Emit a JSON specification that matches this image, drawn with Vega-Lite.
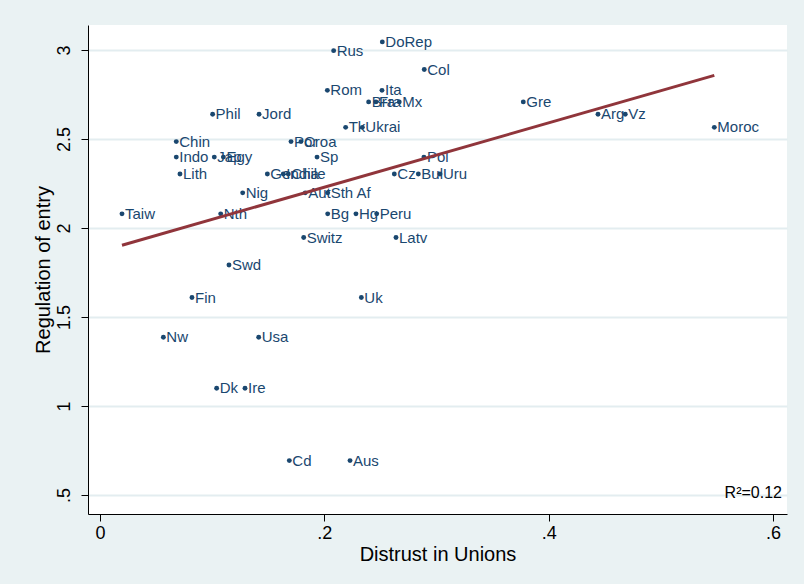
{
  "$schema": "https://vega.github.io/schema/vega-lite/v6.json",
  "autosize": "none",
  "width": 699,
  "height": 489,
  "padding": {"left": 88, "top": 25, "right": 17, "bottom": 70},
  "background": "#EAF2F3",
  "view": {"fill": "white", "stroke": null},
  "config": {
    "font": "Liberation Sans",
    "axis": {
      "domainColor": "#000000",
      "tickColor": "#000000",
      "labelColor": "#000000",
      "titleColor": "#000000",
      "labelFontSize": 18,
      "titleFontSize": 20,
      "titleFontWeight": "normal",
      "tickSize": 7,
      "labelFont": "Liberation Sans",
      "titleFont": "Liberation Sans"
    }
  },
  "datasets": {
    "countries": [
      {"name": "Taiw", "distrust": 0.0196, "reg": 2.079},
      {"name": "Nw", "distrust": 0.0565, "reg": 1.386},
      {"name": "Chin", "distrust": 0.068, "reg": 2.485},
      {"name": "Indo", "distrust": 0.068, "reg": 2.398},
      {"name": "Lith", "distrust": 0.0713, "reg": 2.303},
      {"name": "Fin", "distrust": 0.082, "reg": 1.609},
      {"name": "Phil", "distrust": 0.1004, "reg": 2.639},
      {"name": "Jap", "distrust": 0.1019, "reg": 2.398},
      {"name": "Dk", "distrust": 0.104, "reg": 1.099},
      {"name": "Nth", "distrust": 0.1076, "reg": 2.079},
      {"name": "Egy", "distrust": 0.110, "reg": 2.398},
      {"name": "Swd", "distrust": 0.115, "reg": 1.792},
      {"name": "Nig", "distrust": 0.1272, "reg": 2.197},
      {"name": "Ire", "distrust": 0.1293, "reg": 1.099},
      {"name": "Usa", "distrust": 0.1415, "reg": 1.386},
      {"name": "Jord", "distrust": 0.1418, "reg": 2.639},
      {"name": "Ger", "distrust": 0.1492, "reg": 2.303},
      {"name": "India", "distrust": 0.1634, "reg": 2.303},
      {"name": "Chile", "distrust": 0.1679, "reg": 2.303},
      {"name": "Cd", "distrust": 0.1688, "reg": 0.693},
      {"name": "Por", "distrust": 0.1703, "reg": 2.485},
      {"name": "Croa", "distrust": 0.1792, "reg": 2.485},
      {"name": "Switz", "distrust": 0.1816, "reg": 1.946},
      {"name": "Aut", "distrust": 0.183, "reg": 2.197},
      {"name": "Sp", "distrust": 0.1935, "reg": 2.398},
      {"name": "Rom", "distrust": 0.2027, "reg": 2.773},
      {"name": "Bg", "distrust": 0.203, "reg": 2.079},
      {"name": "Sth Af", "distrust": 0.203, "reg": 2.197},
      {"name": "Rus", "distrust": 0.2083, "reg": 2.996},
      {"name": "Tk", "distrust": 0.219, "reg": 2.565},
      {"name": "Aus", "distrust": 0.2229, "reg": 0.693},
      {"name": "Hg", "distrust": 0.2282, "reg": 2.079},
      {"name": "Uk", "distrust": 0.233, "reg": 1.609},
      {"name": "Ukrai", "distrust": 0.2339, "reg": 2.565},
      {"name": "Bra", "distrust": 0.2395, "reg": 2.708},
      {"name": "Fra", "distrust": 0.246, "reg": 2.708},
      {"name": "Peru", "distrust": 0.2467, "reg": 2.079},
      {"name": "Ita", "distrust": 0.2514, "reg": 2.773},
      {"name": "DoRep", "distrust": 0.2517, "reg": 3.045},
      {"name": "Cz", "distrust": 0.2624, "reg": 2.303},
      {"name": "Latv", "distrust": 0.2639, "reg": 1.946},
      {"name": "Mx", "distrust": 0.2668, "reg": 2.708},
      {"name": "Bul", "distrust": 0.2838, "reg": 2.303},
      {"name": "Pol", "distrust": 0.2888, "reg": 2.398},
      {"name": "Col", "distrust": 0.2891, "reg": 2.890},
      {"name": "Uru", "distrust": 0.3031, "reg": 2.303},
      {"name": "Gre", "distrust": 0.3774, "reg": 2.708},
      {"name": "Arg", "distrust": 0.444, "reg": 2.639},
      {"name": "Vz", "distrust": 0.4683, "reg": 2.639},
      {"name": "Moroc", "distrust": 0.5477, "reg": 2.565}
    ],
    "fit": [
      {"distrust": 0.0196, "reg": 1.903},
      {"distrust": 0.5477, "reg": 2.857}
    ],
    "note": [
      {"distrust": 0.608, "reg": 0.51, "label": "R²=0.12"}
    ]
  },
  "encoding": {
    "x": {
      "field": "distrust",
      "type": "quantitative",
      "scale": {"domain": [-0.0107, 0.6125], "nice": false, "zero": false},
      "axis": {
        "title": "Distrust in Unions",
        "values": [0, 0.2, 0.4, 0.6],
        "labelExpr": "datum.value == 0 ? '0' : replace(format(datum.value, '.1f'), '0.', '.')",
        "grid": false,
        "labelPadding": 3,
        "titlePadding": 2
      }
    },
    "y": {
      "field": "reg",
      "type": "quantitative",
      "scale": {"domain": [0.393, 3.14], "nice": false, "zero": false},
      "axis": {
        "title": "Regulation of entry",
        "values": [0.5, 1, 1.5, 2, 2.5, 3],
        "labelExpr": "replace(format(datum.value, '.2~f'), '0.', '.')",
        "labelAngle": -90,
        "labelAlign": "center",
        "labelBaseline": "bottom",
        "labelPadding": 8,
        "grid": true,
        "gridColor": "#E3EDF0",
        "gridWidth": 2,
        "titlePadding": 2
      }
    }
  },
  "layer": [
    {
      "data": {"name": "countries"},
      "mark": {"type": "circle", "size": 24, "color": "#1A476F", "opacity": 1}
    },
    {
      "data": {"name": "countries"},
      "mark": {"type": "text", "align": "left", "baseline": "middle", "dx": 3, "fontSize": 15, "color": "#1A476F", "font": "Liberation Sans"},
      "encoding": {"text": {"field": "name"}}
    },
    {
      "data": {"name": "fit"},
      "mark": {"type": "line", "color": "#90353B", "strokeWidth": 3},
      "encoding": {}
    },
    {
      "data": {"name": "note"},
      "mark": {"type": "text", "align": "right", "baseline": "middle", "fontSize": 16, "color": "#000000", "font": "Liberation Sans"},
      "encoding": {"text": {"field": "label"}}
    }
  ]
}
